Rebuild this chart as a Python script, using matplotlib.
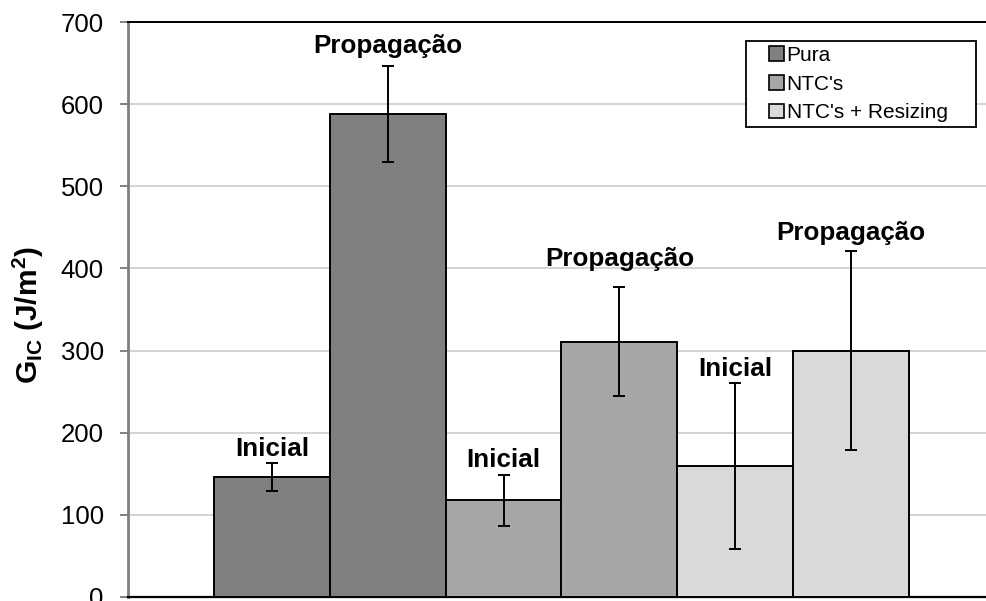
import matplotlib
matplotlib.use("Agg")
import matplotlib.pyplot as plt
from matplotlib.patches import Patch, Rectangle

plt.rcParams['font.family'] = ['Liberation Sans', 'DejaVu Sans']
plt.rcParams['mathtext.fontset'] = 'custom'
plt.rcParams['mathtext.bf'] = 'Liberation Sans:bold'
plt.rcParams['mathtext.rm'] = 'Liberation Sans'

# Data
series = ["Pura", "NTC's", "NTC's + Resizing"]
bar_labels = ["Inicial", "Propagação", "Inicial", "Propagação", "Inicial", "Propagação"]
bar_series = [0, 0, 1, 1, 2, 2]
values = [146, 588, 118, 311, 159, 300]
errors = [17, 58, 31, 66, 101, 121]
yticks = [0, 100, 200, 300, 400, 500, 600, 700]

# Styles
colors = ['#808080', '#a6a6a6', '#d9d9d9']
label_offsets = [5.3, 9.6, 5.8, 15, 5, 8.4]  # points from error-bar top to text baseline

W, H = 986, 601
fig = plt.figure(figsize=(W/100, H/100), dpi=100)
ax = fig.add_axes([128/W, 4/H, 1 - 128/W, (597-22)/H])

x = list(range(len(values)))
ax.bar(x, values, width=1.0, color=[colors[s] for s in bar_series],
       edgecolor='black', linewidth=1.4, zorder=3)
ax.errorbar(x, values, yerr=errors, fmt='none', ecolor='black',
            elinewidth=1.4, capsize=4.3, capthick=1.4, zorder=4)

for xi, v, e, lab, off in zip(x, values, errors, bar_labels, label_offsets):
    ax.annotate(lab, xy=(xi, v + e), xytext=(0, off), textcoords='offset points',
                ha='center', va='baseline', fontsize=18.7, fontweight='bold', zorder=5)

ax.set_xlim(-1.243, 6.166)
ax.set_ylim(0, 700)
ax.set_yticks(yticks)
ax.set_xticks([])
ax.yaxis.grid(True, color='#d4d4d4', linewidth=1.4, zorder=0)
ax.set_axisbelow(True)

ax.spines['right'].set_visible(False)
ax.spines['top'].set_color('black')
ax.spines['top'].set_linewidth(1.4)
ax.spines['bottom'].set_color('black')
ax.spines['bottom'].set_linewidth(1.6)
ax.spines['left'].set_color('#808080')
ax.spines['left'].set_linewidth(2)
ax.tick_params(axis='y', length=6, width=1.4, color='#808080', labelsize=18.5, pad=11.5)

ax.set_ylabel(r'$\mathbf{G_{IC}\;(J/m^{2})}$', fontsize=21.5)
ax.yaxis.set_label_coords((46 - 128) / 858, (597 - 315) / 575)

# Legend
handles = [Patch(facecolor=c, edgecolor='black', linewidth=1.2) for c in colors]
leg = fig.legend(handles, series, loc='upper left',
                 bbox_to_anchor=(769/W, 1 - 46/H), bbox_transform=fig.transFigure,
                 fontsize=15, frameon=False,
                 handlelength=0.7, handleheight=0.7, handletextpad=0.15,
                 borderpad=0, labelspacing=0.46, borderaxespad=0)
fig.add_artist(Rectangle((746/W, 1 - 127/H), 230/W, 86/H, transform=fig.transFigure,
                         facecolor='white', edgecolor='black', linewidth=1.3, zorder=4))
leg.set_zorder(5)

fig.savefig('out.png', dpi=100)
